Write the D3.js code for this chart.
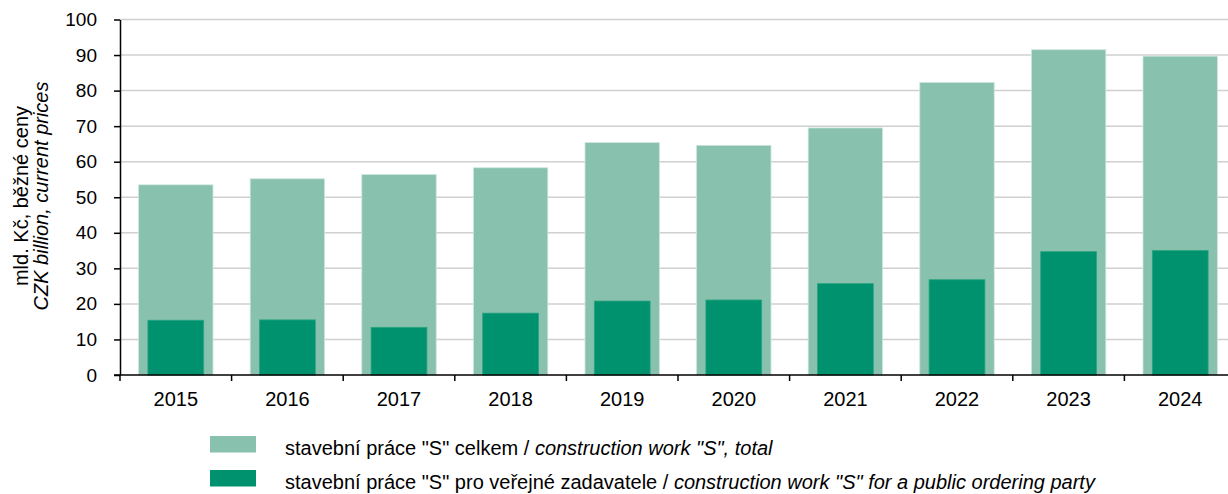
<!DOCTYPE html>
<html>
<head>
<meta charset="utf-8">
<script src="https://cdn.jsdelivr.net/npm/d3@7"></script>
<style>
  html, body { margin: 0; padding: 0; background: #fff; }
  svg { display: block; font-family: "Liberation Sans", Arial, sans-serif; }
</style>
</head>
<body>
<svg id="chart" width="1228" height="494"></svg>
<script>
// Construction work "S" – total vs. public ordering party (CZK billion, current prices)
const years = ["2015", "2016", "2017", "2018", "2019", "2020", "2021", "2022", "2023", "2024"];
const totalValues = [53.5, 55.2, 56.4, 58.3, 65.4, 64.6, 69.5, 82.3, 91.5, 89.7];
const publicValues = [15.4, 15.5, 13.4, 17.4, 20.8, 21.1, 25.7, 26.8, 34.7, 35.0];
const yTicks = [0, 10, 20, 30, 40, 50, 60, 70, 80, 90, 100];
const legendLabels = [
  { cz: 'stavební práce "S" celkem / ', en: 'construction work "S", total' },
  { cz: 'stavební práce "S" pro veřejné zadavatele / ', en: 'construction work "S" for a public ordering party' }
];

const colorTotal = "#88c2ae";
const colorPublic = "#00926e";

const svg = d3.select("#chart");
const W = 1228;
const plot = { left: 120, right: 1236, top: 19.5, bottom: 375 };

const x = d3.scaleBand().domain(years).range([plot.left, plot.right]).paddingInner(0).paddingOuter(0);
const y = d3.scaleLinear().domain([0, 100]).range([plot.bottom, plot.top]);

// Horizontal gridlines
svg.append("g")
  .selectAll("line")
  .data(yTicks.filter(d => d > 0))
  .join("line")
  .attr("x1", plot.left)
  .attr("x2", W)
  .attr("y1", d => y(d))
  .attr("y2", d => y(d))
  .attr("stroke", "#d0d0d0")
  .attr("stroke-width", 1.5);

const bw = x.bandwidth();

// Total bars (wide, light)
svg.append("g")
  .selectAll("rect")
  .data(years.map((yr, i) => ({ yr, v: totalValues[i] })))
  .join("rect")
  .attr("x", d => x(d.yr) + bw * (1 - 0.667) / 2)
  .attr("width", bw * 0.667)
  .attr("y", d => y(d.v))
  .attr("height", d => y(0) - y(d.v))
  .attr("fill", colorTotal)
  .attr("stroke", "#cfe7dd")
  .attr("stroke-width", 0.8);

// Public ordering party bars (narrow, dark)
svg.append("g")
  .selectAll("rect")
  .data(years.map((yr, i) => ({ yr, v: publicValues[i] })))
  .join("rect")
  .attr("x", d => x(d.yr) + bw * 0.25)
  .attr("width", bw * 0.5)
  .attr("y", d => y(d.v))
  .attr("height", d => y(0) - y(d.v))
  .attr("fill", colorPublic)
  .attr("stroke", "#2aa481")
  .attr("stroke-width", 0.8);

// Y axis
const yAxis = svg.append("g")
  .attr("transform", `translate(${plot.left},0)`)
  .call(d3.axisLeft(y).tickValues(yTicks).tickSize(6).tickPadding(17).tickSizeOuter(0));
yAxis.select(".domain").attr("stroke", "#000").attr("stroke-width", 1.5);
yAxis.selectAll(".tick line").attr("stroke", "#000").attr("stroke-width", 1.5);
yAxis.selectAll(".tick text")
  .attr("font-size", 19)
  .attr("font-family", "Liberation Sans, Arial, sans-serif")
  .attr("fill", "#000");

// X axis line and ticks at category boundaries
const xAxisG = svg.append("g");
xAxisG.append("line")
  .attr("x1", plot.left - 6).attr("x2", W)
  .attr("y1", plot.bottom).attr("y2", plot.bottom)
  .attr("stroke", "#000").attr("stroke-width", 1.5);
xAxisG.selectAll("line.tk")
  .data(years.slice(1))
  .join("line")
  .attr("class", "tk")
  .attr("x1", d => x(d)).attr("x2", d => x(d))
  .attr("y1", plot.bottom).attr("y2", plot.bottom + 6)
  .attr("stroke", "#000").attr("stroke-width", 1.5);
xAxisG.append("line")
  .attr("x1", plot.left).attr("x2", plot.left)
  .attr("y1", plot.bottom).attr("y2", plot.bottom + 6)
  .attr("stroke", "#000").attr("stroke-width", 1.5);
xAxisG.selectAll("text")
  .data(years)
  .join("text")
  .attr("x", d => x(d) + bw / 2)
  .attr("y", 406)
  .attr("text-anchor", "middle")
  .attr("font-size", 20)
  .attr("fill", "#000")
  .text(d => d);

// Y axis title (two lines, rotated)
const yTitle = svg.append("text")
  .attr("transform", "translate(0,196) rotate(-90)")
  .attr("text-anchor", "middle")
  .attr("font-size", 20)
  .attr("fill", "#000");
yTitle.append("tspan").attr("x", 0).attr("y", 28).text("mld. Kč, běžné ceny");
yTitle.append("tspan").attr("x", 0).attr("y", 48).attr("font-style", "italic").text("CZK billion, current prices");

// Legend
const legend = svg.append("g");
const legendColors = [colorTotal, colorPublic];
const legendRowY = [436, 470];
legendLabels.forEach((lab, i) => {
  legend.append("rect")
    .attr("x", 210).attr("y", legendRowY[i])
    .attr("width", 46).attr("height", 16.5)
    .attr("fill", legendColors[i]);
  const t = legend.append("text")
    .attr("x", 285).attr("y", legendRowY[i] + 19)
    .attr("font-size", 20)
    .attr("fill", "#000");
  t.append("tspan").text(lab.cz);
  t.append("tspan").attr("font-style", "italic").text(lab.en);
});
</script>
</body>
</html>
